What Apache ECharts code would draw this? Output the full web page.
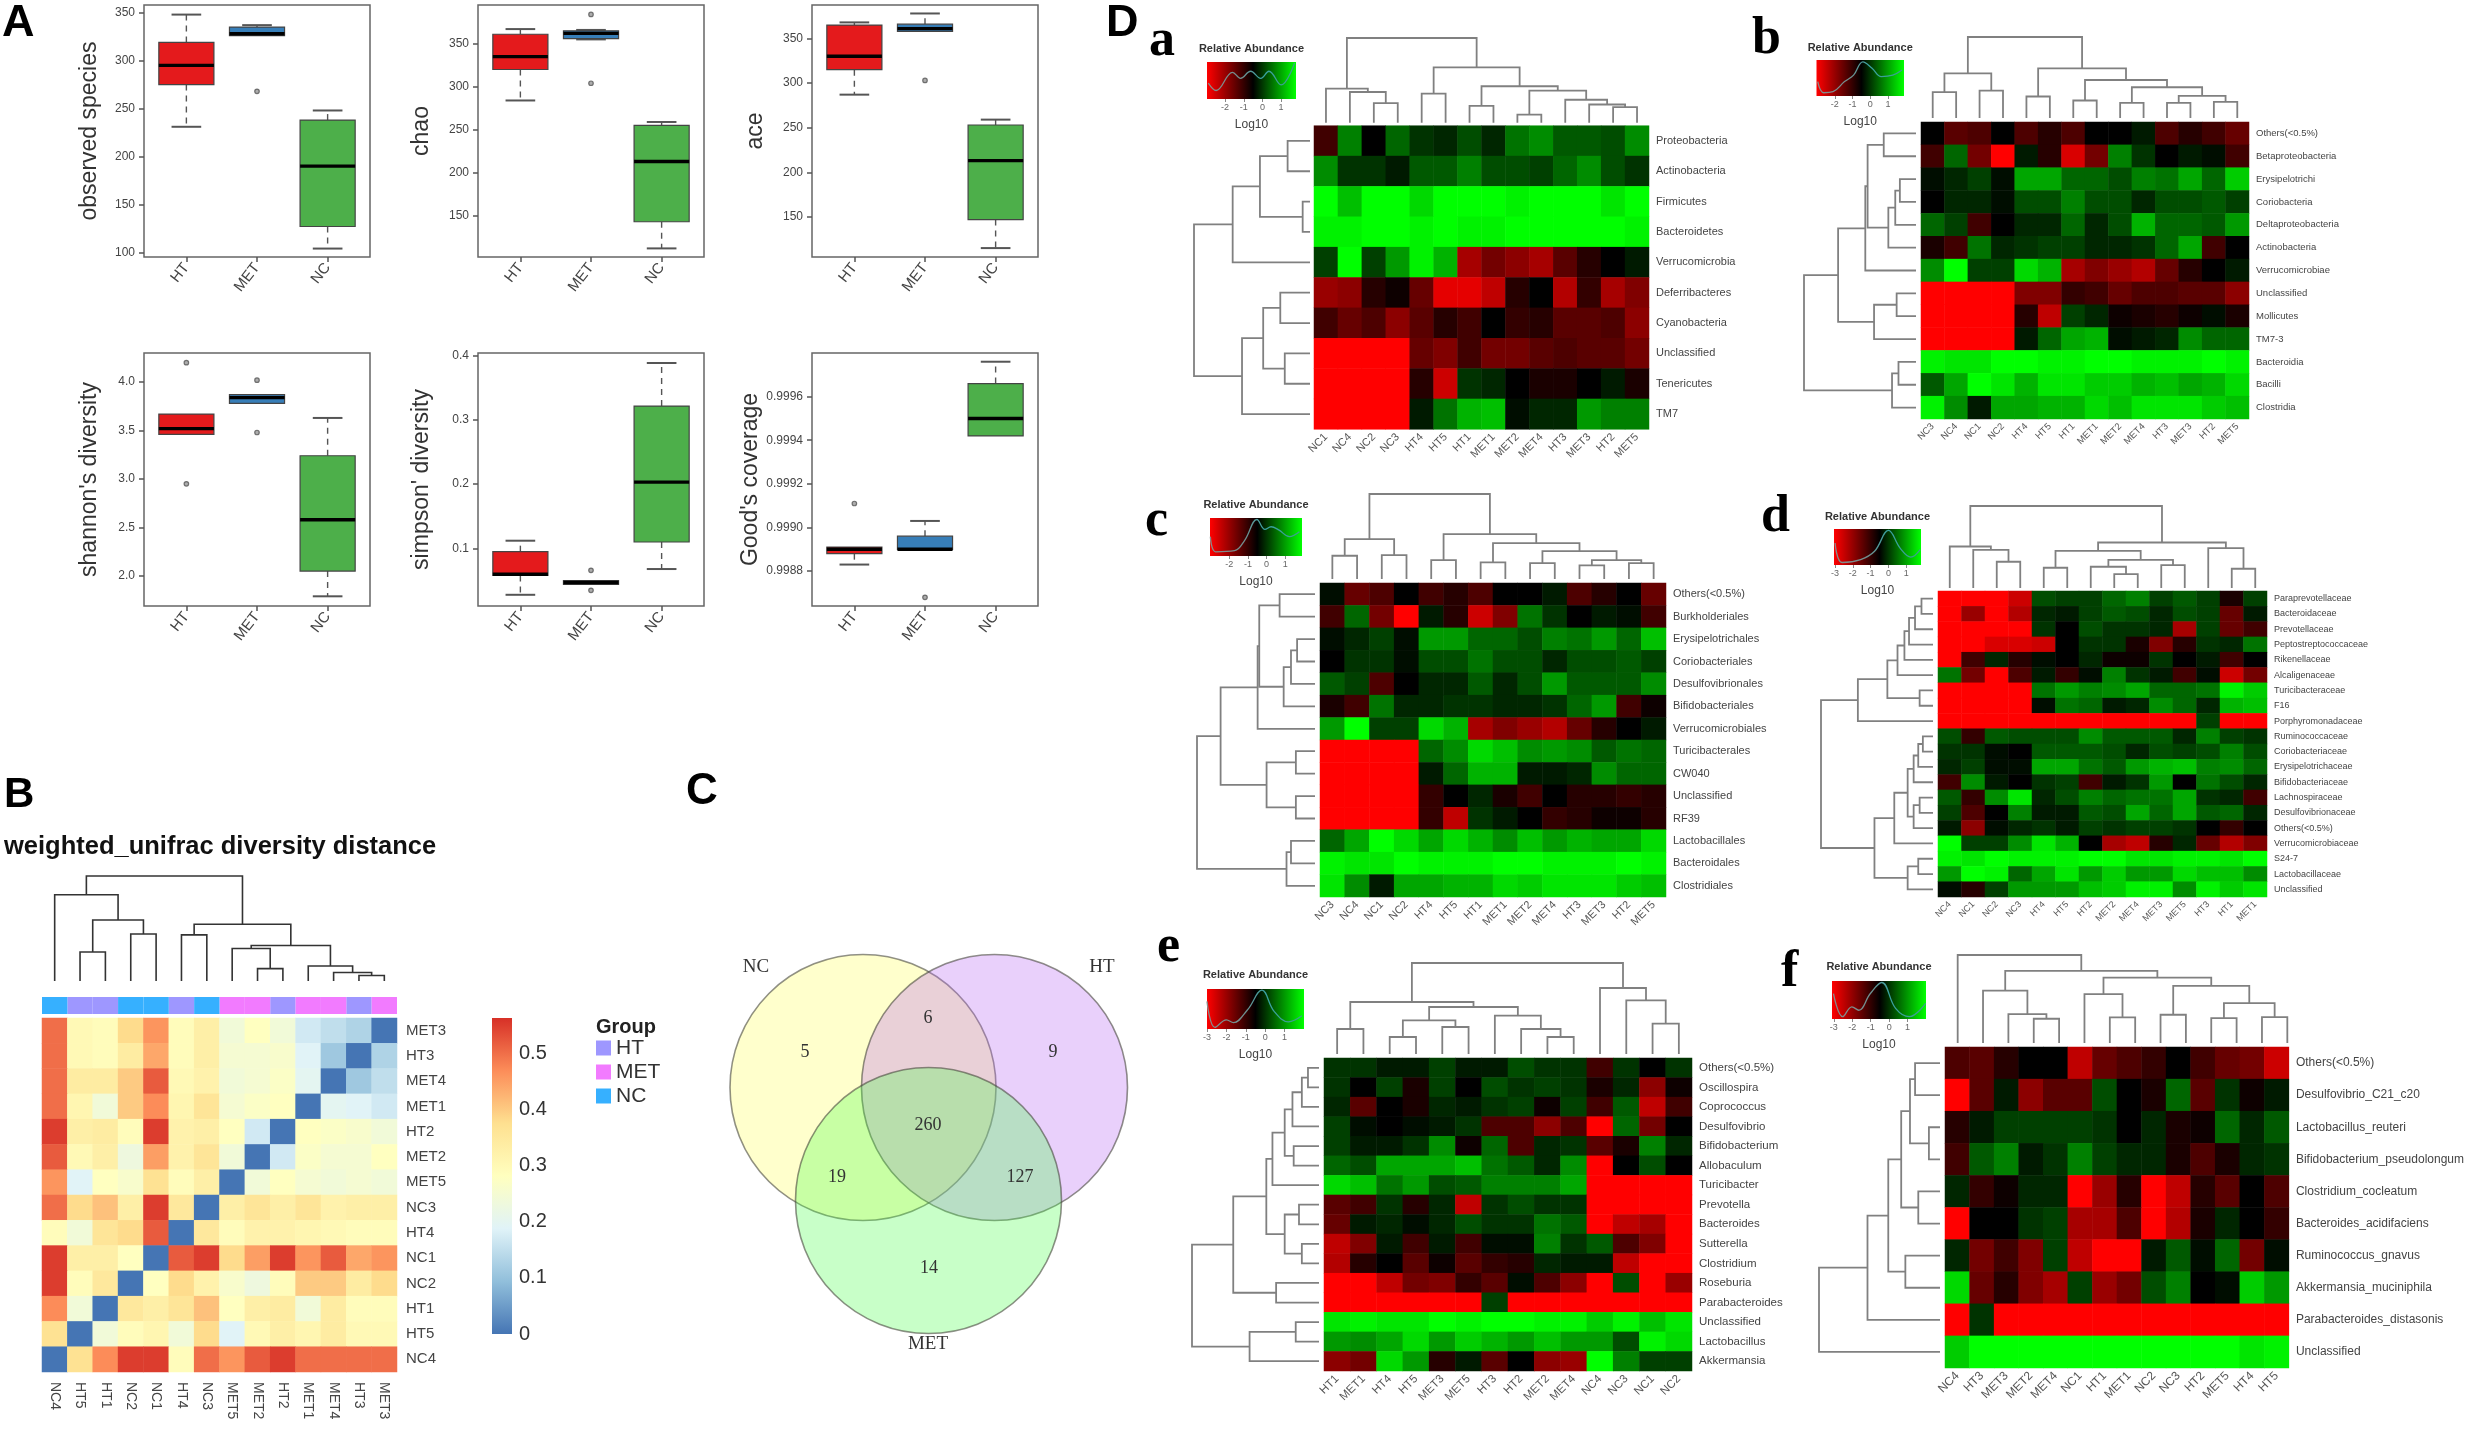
<!DOCTYPE html>
<html><head><meta charset="utf-8">
<style>html,body{margin:0;padding:0;background:#fff}#c{width:2467px;height:1429px}</style>
<script src="https://cdn.jsdelivr.net/npm/echarts@6/dist/echarts.min.js"></script>
</head><body><div id="c"></div>
<script>
// ---------- DATA ----------
const groups = ['HT','MET','NC'];
// box stats: [min, q1, median, q3, max]
const observedBoxes = [[231,275,295,319,348],[326,326,328,335,337],[104,127,190,238,248]];
const observedOut = [[2,268]];
const chaoBoxes = [[284,320,335,361,367],[355,356,362,365,366],[112,143,213,255,259]];
const chaoOut = [[2,384],[2,304]];
const aceBoxes = [[287,315,330,365,368],[358,358,361,366,378],[115,147,213,253,259]];
const aceOut = [[2,303]];
const shannonBoxes = [[3.46,3.46,3.52,3.67,3.67],[3.78,3.78,3.84,3.87,3.87],[1.79,2.05,2.58,3.24,3.63]];
const shannonOut = [[1,4.2],[1,2.95],[2,4.02],[2,3.48]];
const simpsonBoxes = [[0.028,0.058,0.06,0.095,0.112],[0.044,0.044,0.047,0.05,0.05],[0.068,0.11,0.203,0.321,0.388]];
const simpsonOut = [[2,0.066],[2,0.035]];
const goodsBoxes = [[0.99883,0.99888,0.9989,0.99891,0.99891],[0.9989,0.9989,0.9989,0.99896,0.99903],[0.99942,0.99942,0.9995,0.99966,0.99976]];
const goodsOut = [[1,0.99911],[2,0.99868]];

const distCols = ['NC4','HT5','HT1','NC2','NC1','HT4','NC3','MET5','MET2','HT2','MET1','MET4','HT3','MET3'];
const distRows = ['MET3','HT3','MET4','MET1','HT2','MET2','MET5','NC3','HT4','NC1','NC2','HT1','HT5','NC4'];
const distValues = [
[.5,.30,.29,.38,.46,.29,.33,.24,.28,.24,.17,.15,.13,0],
[.5,.30,.29,.34,.44,.29,.33,.25,.25,.26,.19,.11,0,.13],
[.5,.34,.34,.40,.52,.30,.32,.24,.25,.27,.2,0,.11,.15],
[.5,.31,.24,.40,.47,.31,.36,.25,.27,.28,0,.2,.19,.17],
[.55,.33,.34,.29,.55,.32,.33,.28,.17,0,.28,.27,.26,.24],
[.52,.30,.33,.23,.45,.32,.36,.24,0,.17,.27,.25,.25,.28],
[.46,.19,.28,.26,.37,.29,.33,0,.24,.28,.25,.24,.25,.24],
[.5,.38,.41,.33,.55,.35,0,.33,.36,.33,.36,.32,.33,.33],
[.29,.24,.36,.38,.52,0,.35,.29,.32,.32,.31,.30,.29,.29],
[.55,.33,.33,.28,0,.52,.55,.38,.45,.55,.46,.52,.44,.46],
[.55,.29,.35,0,.28,.38,.32,.26,.23,.29,.40,.40,.34,.38],
[.47,.24,0,.35,.33,.36,.41,.28,.33,.34,.24,.34,.29,.29],
[.37,0,.24,.29,.31,.24,.38,.19,.30,.33,.31,.34,.30,.30],
[0,.37,.47,.55,.55,.29,.5,.46,.52,.55,.5,.5,.5,.5]];
const distTree = [246,[202,0,[143,[68,0,0],[110,0,0]]],[133,[108,0,0],[83,[76,0,[29,0,0]],[35,0,[20,0,[13,0,0]]]]]];
const distTicks = [0,0.1,0.2,0.3,0.4,0.5];
const distPalette = ['#4575B4','#91BFDB','#E0F3F8','#FFFFBF','#FEE090','#FC8D59','#D73027'];

const vennCounts = ['5','6','9','260','19','127','14'];
const vennNames = ['NC','HT','MET'];

const R = -2.5;
const aCols = ['NC1','NC4','NC2','NC3','HT4','HT5','HT1','MET1','MET2','MET4','HT3','MET3','HT2','MET5'];
const aTaxa = ['Proteobacteria','Actinobacteria','Firmicutes','Bacteroidetes','Verrucomicrobia','Deferribacteres','Cyanobacteria','Unclassified','Tenericutes','TM7'];
const aValues = [
[-1,.5,-.5,.3,-.1,-.2,.1,-.2,.4,.6,.2,.2,.1,.6],
[.6,-.1,-.1,-.3,.2,.2,.5,.1,.1,0,.3,.6,.1,-.1],
[1.5,1,1.5,1.5,1.2,1.5,1.5,1.5,1.4,1.5,1.5,1.5,1.3,1.5],
[1.4,1.4,1.5,1.5,1.4,1.5,1.4,1.4,1.5,1.5,1.5,1.5,1.5,1.4],
[0,1.5,0,.7,1.4,.9,-1.8,-1.4,-1.6,-1.8,-1.2,-.8,-.5,-.3],
[-1.7,-1.6,-.8,-.6,-1.3,-2.3,-2.3,-2,-.8,-.5,-1.9,-.9,-1.8,-1.5],
[-1,-1.3,-1.1,-1.6,-1.2,-.8,-1,-.5,-.9,-.8,-1.2,-1.2,-1.1,-1.6],
[R,R,R,R,-1.3,-1.5,-1,-1.4,-1.4,-1.2,-1.1,-1.2,-1.2,-1.4],
[R,R,R,R,-.8,-2.1,-.1,-.2,-.5,-.7,-.7,-.5,-.3,-.7],
[R,R,R,R,-.3,.4,.9,1,-.4,-.2,-.2,.7,.5,.5]];
const aTop = [251,[101,0,[91,0,[58,0,0]]],[164,[86,0,0],[108,[50,0,0],[95,[24,0,0],[68,0,[54,0,[46,0,0]]]]]]];
const aLeft = [285,[190,[123,[55,0,0],[18,0,0]],0],[167,[115,[73,0,0],[62,0,0]],0]];
const aDensity = [[-2.9,.43],[-2.48,.23],[-1.6,.72],[-1.17,.56],[-.63,.75],[-.09,.56],[.35,.75],[1,.38],[1.72,.97]];

const bCols = ['NC3','NC4','NC1','NC2','HT4','HT5','HT1','MET1','MET2','MET4','HT3','MET3','HT2','MET5'];
const bTaxa = ['Others(<0.5%)','Betaproteobacteria','Erysipelotrichi','Coriobacteria','Deltaproteobacteria','Actinobacteria','Verrucomicrobiae','Unclassified','Mollicutes','TM7-3','Bacteroidia','Bacilli','Clostridia'];
const bValues = [
[-.5,-1.2,-1.1,-.5,-1.1,-.8,-1.1,-.5,-.5,-.3,-1.1,-.8,-1,-1.3],
[-1,.3,-1.4,R,-.3,-.8,-2.2,-1.4,.5,-.1,-.5,-.3,-.4,-1],
[-.4,-.2,0,-.4,.8,.8,.3,.3,.1,.5,.4,.8,.3,1.1],
[-.5,-.2,-.2,-.4,.1,.1,.5,.1,.1,-.2,.1,.1,.2,0],
[.3,0,-1,-.5,-.2,-.2,.3,-.2,.1,.9,.3,.3,.2,.7],
[-.7,-1,.4,-.2,-.1,0,0,-.2,-.2,-.1,.3,.8,-1,-.5],
[.6,1.5,0,0,1.2,.9,-1.8,-1.5,-1.7,-1.9,-1.3,-.8,-.5,-.3],
[R,R,R,R,-1.5,-1.5,-.9,-1,-1.3,-1.1,-1.1,-1.2,-1.2,-1.6],
[R,R,R,R,-.8,-2,0,-.2,-.6,-.7,-.8,-.6,-.4,-.7],
[R,R,R,R,-.3,.3,.8,.9,-.4,-.3,-.2,.6,.3,.3],
[1.4,1.3,1.3,1.5,1.5,1.4,1.4,1.5,1.5,1.4,1.4,1.4,1.5,1.4],
[.2,.8,1.5,1.3,.9,1.3,1.3,1.1,1.1,.9,1,.8,.9,1.2],
[1.4,.6,-.3,.8,.8,.9,.9,1.2,1,1.3,1.3,1.3,1.1,1]];
const bTop = [245,[135,[78,0,0],[83,0,0]],[150,[65,0,0],[115,[53,0,0],[93,[46,0,0],[67,[46,0,0],[49,0,0]]]]]];
const bLeft = [243,[169,[110,[105,[70,0,0],[60,[45,[35,0,0],0],0]],0],[91,[42,0,0],0]],[52,[38,0,0],0]];
const bDensity = [[-2.96,.4],[-2.62,.09],[-2.1,.12],[-1.45,.4],[-.94,.58],[-.42,.95],[.1,.77],[.62,.54],[1.27,.58],[1.79,.72]];

const cCols = bCols;
const cTaxa = ['Others(<0.5%)','Burkholderiales','Erysipelotrichales','Coriobacteriales','Desulfovibrionales','Bifidobacteriales','Verrucomicrobiales','Turicibacterales','CW040','Unclassified','RF39','Lactobacillales','Bacteroidales','Clostridiales'];
const cValues = [
[-.4,-1.3,-1.1,-.5,-1,-.8,-1.1,-.5,-.5,-.3,-1.1,-.8,-.5,-1.3],
[-1,.3,-1.4,R,-.3,-.8,-2.1,-1.5,.4,-.1,-.5,-.3,-.4,-1],
[-.4,-.2,0,-.4,.7,.7,.3,.3,.1,.5,.4,.7,.3,1],
[-.5,-.1,-.1,-.4,.1,.1,.4,.1,.1,-.2,.1,.1,.2,0],
[.2,0,-1.1,-.5,-.2,-.2,.2,-.2,.1,.7,.2,.2,.2,.6],
[-.7,-1,.4,-.2,-.2,-.1,-.1,-.2,-.2,-.1,.3,.7,-1,-.6],
[.7,1.5,0,0,1.2,.9,-1.8,-1.5,-1.7,-1.9,-1.3,-.8,-.5,-.3],
[R,R,R,R,.3,.6,1.2,1,.6,.7,.6,.2,.4,.3],
[R,R,R,R,-.3,.3,.9,.9,-.3,-.3,-.2,.6,.3,.3],
[R,R,R,R,-.9,-.5,-.2,-.7,-1,-.5,-.8,-.8,-.9,-.8],
[R,R,R,R,-.9,-2,-.1,-.3,-.5,-.9,-.8,-.6,-.6,-.8],
[.3,.8,1.5,1.2,.8,1.2,.9,.6,1,.7,.9,.8,.8,1.2],
[1.4,1.3,1.3,1.5,1.4,1.4,1.4,1.5,1.5,1.4,1.4,1.4,1.5,1.4],
[1.3,.6,-.3,.8,.8,.9,.9,1.2,1.1,1.3,1.3,1.3,1.1,1]];
const cTop = [256,[120,[70,0,0],[72,0,0]],[135,[57,0,0],[108,[50,0,0],[84,[48,0,0],[57,[41,0,0],[48,0,0]]]]]];
const cLeft = [290,[232,[141,[137,[87,0,0],[77,[59,[44,0,0],0],0]],0],[119,[47,0,0],[47,0,0]]],[70,[59,0,0],0]];
const cDensity = [[-3.02,.51],[-2.74,.11],[-1.72,.14],[-1.17,.42],[-.52,.96],[-.09,.7],[.24,.77],[.67,.68],[1.22,.51],[1.76,.64]];

const dCols = ['NC4','NC1','NC2','NC3','HT4','HT5','HT2','MET2','MET4','MET3','MET5','HT3','HT1','MET1'];
const dTaxa = ['Paraprevotellaceae','Bacteroidaceae','Prevotellaceae','Peptostreptococcaceae','Rikenellaceae','Alcaligenaceae','Turicibacteraceae','F16','Porphyromonadaceae','Ruminococcaceae','Coriobacteriaceae','Erysipelotrichaceae','Bifidobacteriaceae','Lachnospiraceae','Desulfovibrionaceae','Others(<0.5%)','Verrucomicrobiaceae','S24-7','Lactobacillaceae','Unclassified'];
const dValues = [
[R,R,R,-2.1,.1,0,0,.3,.5,0,.2,0,-.7,0],
[R,-1.7,R,-1.9,-.2,-.3,0,.2,.1,-.2,.1,0,-1.3,-.3],
[R,R,R,R,-.1,-.5,.1,-.1,-.1,-.2,-1.8,0,-1.3,-1],
[R,R,-2.2,-2.2,-2.1,-.5,-.1,-.1,-.7,-1.5,-.8,-.1,-.2,.4],
[R,-1,-.2,-.8,-.4,-.5,-.2,-.6,-.6,-.1,-.5,-.3,-1,-.5],
[.4,-1.4,R,-1.1,-.3,-.9,-.4,.5,-.1,-.3,-1,-.4,-2.1,-1.4],
[R,R,R,R,.4,.7,.5,.6,.8,.3,.3,.4,1.4,1.1],
[R,R,R,R,-.4,.4,.3,-.3,-.2,.6,.3,-.2,.9,1],
[R,R,R,R,R,R,R,R,R,R,R,0,R,R],
[.1,-.9,.2,.1,.1,.1,.6,.2,.2,.2,-.2,.5,0,-.1],
[-.1,-.1,-.4,-.5,.2,.2,.2,.1,-.2,.1,0,.1,.5,.1],
[-.2,0,-.4,-.4,.8,.8,.4,.2,.7,.9,1,.5,.6,.3],
[-1,.6,-.3,-.5,-.1,0,-1,-.3,-.1,.7,-.5,.4,.1,-.2],
[.2,-.9,.6,1.3,-.2,.1,.5,.3,.4,.4,.8,-.1,-.2,-1],
[0,-1.1,-.5,.5,-.3,-.3,.2,.1,.8,.3,.8,.2,.3,-.2],
[-.3,-1.6,-.4,-.2,-.1,-.3,0,-.1,0,0,-.1,-.5,-.9,-.5],
[1.5,0,0,.6,1.3,.9,-.5,-1.8,-2,-.8,-.2,-1.3,-1.9,-1.5],
[1.4,1.3,1.5,1.4,1.4,1.4,1.5,1.5,1.3,1.3,1.4,1.4,1.3,1.5],
[.7,1.5,1.4,.3,.8,1.3,.7,1.1,.7,.7,1.2,1,1,.6],
[-.4,-.8,0,.7,.7,.7,1,1.1,1.4,1.4,.6,1.4,1.1,1.3]];
const dTop = [247,[125,0,[115,0,[79,0,0]]],[137,[112,[61,0,0],[85,[64,0,[42,0,0]],[69,0,0]]],[120,0,[58,0,0]]]];
const dLeft = [243,[163,[99,[77,[62,[52,[39,[25,0,0],0],0],0],0],[29,0,0]],0],[127,[84,[55,[42,[32,[22,0,0],0],0],[42,[29,0,0],0]],0],[55,[32,0,0],0]]];
const dDensity = [[-2.99,.61],[-2.6,.07],[-1.56,.15],[-.78,.38],[0,.96],[.65,.47],[1.25,.22],[1.77,.43]];

const eCols = ['HT1','MET1','HT4','HT5','MET3','MET5','HT3','HT2','MET2','MET4','NC4','NC3','NC1','NC2'];
const eTaxa = ['Others(<0.5%)','Oscillospira','Coprococcus','Desulfovibrio','Bifidobacterium','Allobaculum','Turicibacter','Prevotella','Bacteroides','Sutterella','Clostridium','Roseburia','Parabacteroides','Unclassified','Lactobacillus','Akkermansia'];
const eValues = [
[-.1,-.1,-.3,-.3,0,-.3,-.3,.1,-.1,-.1,-1,-.1,-.5,-.1],
[-.1,-.5,0,-.7,0,-.5,.1,-.1,0,-.1,-.7,-.2,-1.6,-.6],
[-.2,-1.2,-.5,-.7,-.2,-.3,-.1,0,-.6,0,-1,.2,-2,-1],
[0,-.4,-.5,-.4,-.3,-.1,-1.1,-1.1,-1.6,-1.1,R,.3,-1.4,-.5],
[0,-.3,-.3,-.1,.6,-.6,.3,-1.1,-.2,-.1,-1.2,-.7,.5,-.2],
[.3,.1,.8,.8,.8,1,.4,.2,-.2,.6,R,-.5,.1,-.5],
[1.2,1,.4,.7,.1,.2,.5,.5,.5,.8,R,R,R,R],
[-1.2,-1,-.1,-.8,-.2,-2,-.1,.1,-.1,-.1,R,R,R,R],
[-1.3,-.3,-.2,-.4,-.2,.1,-.1,-.1,.4,.2,R,-2,-1.8,R],
[-2,-1.5,-.3,-1,-.3,-1,-.4,-.4,.5,-.1,.2,-1.1,-1.5,R],
[-1.9,-.8,-.5,-1.2,-.6,-1.2,-.9,-.8,-.2,-.3,-.3,-2,R,R],
[R,R,-2,-1.4,-1.5,-.9,-1.2,-.4,-1.1,-1.6,R,.1,R,-1.7],
[R,R,R,R,R,R,0,R,R,R,R,R,R,R],
[1.3,1.4,1.3,1.3,1.5,1.4,1.5,1.5,1.4,1.4,1.1,1.4,1,1.3],
[.7,.6,.8,1.2,.7,1.1,.9,.7,1,.7,.7,.1,1.4,1.2],
[-1.6,-1.4,1.2,.7,-.8,-.3,-1.2,-.5,-1.6,-1.7,1.5,.5,0,0]];
const eTop = [273,[156,[75,0,0],[141,[101,[51,0,0],[81,0,0]],[115,0,[75,0,[51,0,0]]]]],[198,0,[161,0,[91,0,0]]]];
const eLeft = [311,[210,[129,[114,[84,[65,[42,[27,0,0],0],0],[62,0,0]],0],[84,[49,0,0],[42,0,0]]],[105,0,0]],[170,[57,0,0],0]];
const eDensity = [[-3,.69],[-2.59,.04],[-2,.23],[-1.64,.16],[-.91,.48],[-.17,.97],[.46,.44],[1.2,.18],[1.89,.33]];

const fCols = ['NC4','HT3','MET3','MET2','MET4','NC1','HT1','MET1','NC2','NC3','HT2','MET5','HT4','HT5'];
const fTaxa = ['Others(<0.5%)','Desulfovibrio_C21_c20','Lactobacillus_reuteri','Bifidobacterium_pseudolongum','Clostridium_cocleatum','Bacteroides_acidifaciens','Ruminococcus_gnavus','Akkermansia_muciniphila','Parabacteroides_distasonis','Unclassified'];
const fValues = [
[-1.1,-1.2,-.8,-.5,-.5,-2,-1.3,-1.1,-.9,-.5,-1,-1.3,-1.4,-2.1],
[R,-1.2,-.3,-1.6,-1.2,-1.2,.1,-.5,-.7,.3,-1.2,-.1,-.6,-.3],
[-.8,-.3,0,0,0,0,-.1,-.5,-.2,-.7,-.6,.3,-.2,.2],
[-1,.2,.5,-.3,-.1,.5,0,-.2,-.2,-.7,-1.1,-.7,-.2,-.1],
[-.2,-.9,-.6,-.2,-.2,R,-1.7,-.8,R,-2,-.8,-1.2,-.5,-1.1],
[R,-.5,-.5,-.1,0,-1.8,-1.8,-1.1,R,-1.9,-.7,-.2,-.5,-.9],
[-.2,-1.4,-1,-1.5,0,-2,R,R,-.3,.2,-.4,.3,-1.4,-.4],
[1.2,-1.3,-.8,-1.5,-1.8,0,-1.7,-1.4,.1,.5,-.5,-.4,1.1,.7],
[R,-.1,R,R,R,R,R,R,R,R,R,R,R,R],
[1.1,1.5,1.5,1.5,1.5,1.5,1.5,1.5,1.5,1.5,1.5,1.5,1.3,1.4]];
const fTop = [265,0,[217,[158,0,[87,0,[73,0,0]]],[197,[147,0,[77,0,0]],[172,[85,0,0],[120,[75,0,0],[78,0,0]]]]]];
const fLeft = [262,[157,[112,[84,[65,[54,0,0],[24,0,0]],[47,0,0]],[75,0,0]],0],0];
const fDensity = [[-3.02,.67],[-2.52,.06],[-2.02,.32],[-1.65,.23],[-1.02,.67],[-.4,.96],[.35,.28],[1.1,.06],[1.98,.41]];

// ---------- LAYOUT ----------
const SANS = '"Liberation Sans",Arial,sans-serif', SERIF = '"Liberation Serif","Times New Roman",serif';
const opt = {backgroundColor:'#fff',animation:false,textStyle:{fontFamily:SANS},grid:[],xAxis:[],yAxis:[],series:[],visualMap:[],graphic:[{type:'group',children:[]}]};
const gfx = opt.graphic[0].children;
function text(t,x,y,font,fill,align){gfx.push({type:'text',x:x,y:y,silent:true,style:{text:t,font:font,fill:fill||'#000',textAlign:align||'left',textVerticalAlign:'middle'}});}
function addGrid(r,xa,ya,g){const i=opt.grid.length;
  opt.grid.push(Object.assign({left:r[0],top:r[1],width:r[2]-r[0],height:r[3]-r[1],show:false},g||{}));
  opt.xAxis.push(Object.assign({gridIndex:i},xa));opt.yAxis.push(Object.assign({gridIndex:i},ya));return i;}
const hidden=(min,max,extra)=>Object.assign({type:'value',show:false,min:min,max:max,splitLine:{show:false}},extra||{});

// ---- A: box plots ----
const boxColors=['#e41a1c','#377eb8','#4daf4a'];
function boxPanel(rect,title,gap,boxes,outs,yMin,yMax,ticks,dec){
  const i=addGrid(rect,
   {type:'value',min:0.4,max:3.6,splitLine:{show:false},axisLine:{show:false},
    axisTick:{show:true,length:5,customValues:[1,2,3],lineStyle:{color:'#555',width:1.5}},
    axisLabel:{customValues:[1,2,3],rotate:52,margin:8,fontSize:15,color:'#444',formatter:v=>groups[Math.round(v)-1]}},
   {type:'value',min:yMin,max:yMax,splitLine:{show:false},axisLine:{show:false},
    axisTick:{show:true,length:5,customValues:ticks,lineStyle:{color:'#555',width:1.5}},
    axisLabel:{customValues:ticks,margin:9,fontSize:12,color:'#444',formatter:v=>v.toFixed(dec)},
    name:title,nameLocation:'middle',nameGap:gap,nameTextStyle:{fontSize:23,color:'#333',fontFamily:SANS}},
   {show:true,borderColor:'#666',borderWidth:1.5});
  opt.series.push({type:'custom',xAxisIndex:i,yAxisIndex:i,silent:true,clip:false,
    data:boxes.map((b,k)=>[k+1].concat(b)),
    renderItem:(p,api)=>{const x=api.value(0),c=(a,b)=>api.coord([a,b]),mn=api.value(1),q1=api.value(2),m=api.value(3),q3=api.value(4),mx=api.value(5);
      const col=boxColors[p.dataIndex],ln=(a,b,st)=>({type:'line',shape:{x1:a[0],y1:a[1],x2:b[0],y2:b[1]},style:st});
      const ws={stroke:'#555',lineWidth:1.4,lineDash:[6,5]},cs={stroke:'#555',lineWidth:2};
      const ch=[];
      if(mx>q3){ch.push(ln(c(x,q3),c(x,mx),ws),ln(c(x-.21,mx),c(x+.21,mx),cs));}
      if(mn<q1){ch.push(ln(c(x,q1),c(x,mn),ws),ln(c(x-.21,mn),c(x+.21,mn),cs));}
      const a=c(x-.39,q3),b=c(x+.39,q1);
      ch.push({type:'rect',shape:{x:a[0],y:a[1],width:b[0]-a[0],height:b[1]-a[1]},style:{fill:col,stroke:'#444',lineWidth:1.2}});
      ch.push(ln(c(x-.39,m),c(x+.39,m),{stroke:'#000',lineWidth:3.4}));
      return {type:'group',children:ch};}});
  opt.series.push({type:'scatter',xAxisIndex:i,yAxisIndex:i,silent:true,data:outs,symbolSize:4.5,
    itemStyle:{color:'#999',borderColor:'#555',borderWidth:1.2}});
}
boxPanel([144,5,370,257],'observed species',43,observedBoxes,observedOut,95.2,358,[100,150,200,250,300,350],0);
boxPanel([478,5,704,257],'chao',45,chaoBoxes,chaoOut,102,395,[150,200,250,300,350],0);
boxPanel([812,5,1038,257],'ace',45,aceBoxes,aceOut,105,387.5,[150,200,250,300,350],0);
boxPanel([144,353,370,606],'shannon\'s diversity',43,shannonBoxes,shannonOut,1.69,4.30,[2,2.5,3,3.5,4],1);
boxPanel([478,353,704,606],'simpson\' diversity',45,simpsonBoxes,simpsonOut,0.0106,0.4035,[0.1,0.2,0.3,0.4],1);
boxPanel([812,353,1038,606],'Good\'s coverage',45,goodsBoxes,goodsOut,0.99864,0.9998,[0.9988,0.999,0.9992,0.9994,0.9996],4);

// ---- dendrograms ----
function segments(tree){let leaf=0;const segs=[];
  (function walk(n){if(n===0)return {p:leaf++,h:0};const a=walk(n[1]),b=walk(n[2]);segs.push([a.p,a.h,b.p,b.h,n[0]]);return {p:(a.p+b.p)/2,h:n[0]};})(tree);
  return segs;}
function dendrogram(rect,tree,count,horizontal,stroke,width){
  const i=horizontal?addGrid(rect,hidden(0,tree[0],{inverse:true}),hidden(-.5,count-.5,{inverse:true}))
                    :addGrid(rect,hidden(-.5,count-.5),hidden(0,tree[0]));
  opt.series.push({type:'custom',xAxisIndex:i,yAxisIndex:i,silent:true,clip:false,data:segments(tree),
    renderItem:(p,api)=>{const [p1,h1,p2,h2,h]=[0,1,2,3,4].map(k=>api.value(k));
      const c=(q,v)=>api.coord(horizontal?[v,q]:[q,v]);
      return {type:'polyline',shape:{points:[c(p1,h1),c(p1,h),c(p2,h),c(p2,h2)]},style:{fill:null,stroke:stroke,lineWidth:width}};}});
}

// ---- B ----
const bandAxis=(d,extra)=>Object.assign({type:'category',data:d,axisLine:{show:false},axisTick:{show:false},splitLine:{show:false}},extra);
(function(){
  const L=42,Rt=397,T=1018,Bm=1372;
  dendrogram([L,876,Rt,981],distTree,14,false,'#333',1.6);
  const s=addGrid([L,997,Rt,1014],bandAxis(distCols,{axisLabel:{show:false}}),hidden(0,1));
  const grp=n=>n.replace(/\d/,'');
  ['HT','MET','NC'].forEach((g,k)=>opt.series.push({type:'bar',name:g,stack:'strip',xAxisIndex:s,yAxisIndex:s,silent:true,barCategoryGap:0,
    itemStyle:{color:['#9e97ff','#f27bff','#36b0ff'][k]},data:distCols.map(n=>grp(n)===g?1:null)}));
  const h=addGrid([L,T,Rt,Bm],
    bandAxis(distCols,{axisLabel:{interval:0,rotate:-90,fontSize:14,color:'#444',margin:10}}),
    bandAxis(distRows,{inverse:true,position:'right',axisLabel:{interval:0,fontSize:15,color:'#444',margin:9}}));
  const data=[];distValues.forEach((r,y)=>r.forEach((v,x)=>data.push([x,y,v])));
  const si=opt.series.length;
  opt.series.push({type:'heatmap',xAxisIndex:h,yAxisIndex:h,silent:true,data:data,progressive:0});
  opt.visualMap.push({type:'continuous',show:false,seriesIndex:si,dimension:2,min:0,max:.563,inRange:{color:distPalette}});
  // colour bar
  const cb=addGrid([492,1018,512,1334],hidden(0,1),
    {type:'value',position:'right',min:0,max:.563,splitLine:{show:false},axisLine:{show:false},axisTick:{show:false},
     axisLabel:{customValues:distTicks,fontSize:20,color:'#333',margin:7,formatter:v=>v===0?'0':String(+v.toFixed(1))}});
  opt.series.push({type:'custom',xAxisIndex:cb,yAxisIndex:cb,silent:true,data:[[0,0,1,.563]],
    renderItem:(p,api)=>{const a=api.coord([0,.563]),b=api.coord([1,0]);
      return {type:'rect',shape:{x:a[0],y:a[1],width:b[0]-a[0],height:b[1]-a[1]},
        style:{fill:new echarts.graphic.LinearGradient(0,1,0,0,distPalette.map((c,k)=>({offset:k/6,color:c})))}};}});
  opt.legend={show:true,orient:'vertical',left:596,top:1037,padding:0,itemWidth:15,itemHeight:15,itemGap:2,icon:'rect',
    data:['HT','MET','NC'],selectedMode:false,textStyle:{fontSize:21,color:'#333',fontFamily:SANS,lineHeight:22}};
  text('Group',596,1027,'bold 20px '+SANS,'#222');
  text('weighted_unifrac diversity distance',4,847,'bold 25.5px '+SANS,'#111');
})();

// ---- C: Venn ----
(function(){
  const i=addGrid([680,930,1180,1370],hidden(680,1180),hidden(930,1370,{inverse:true}));
  const sets=[[863,1087.5,133,'rgba(255,255,0,0.2)'],[994.5,1087.5,133,'rgba(182,98,242,0.3)'],[928.5,1200.5,133,'rgba(72,255,72,0.3)']];
  opt.series.push({type:'custom',xAxisIndex:i,yAxisIndex:i,silent:true,clip:false,data:sets,
    renderItem:(p,api)=>{const c=api.coord([api.value(0),api.value(1)]),r=api.size([api.value(2),0])[0];
      return {type:'circle',shape:{cx:c[0],cy:c[1],r:r},style:{fill:sets[p.dataIndex][3],stroke:'rgba(70,70,60,0.6)',lineWidth:1.6}};}});
  const spots=[[805,1052],[928,1018],[1053,1052],[928,1125],[837,1177],[1020,1177],[929,1268]];
  const nameSpots=[[756,967],[1102,967],[928,1344]];
  const labs=vennCounts.map((t,k)=>[spots[k][0],spots[k][1],t,18]).concat(vennNames.map((t,k)=>[nameSpots[k][0],nameSpots[k][1],t,19]));
  opt.series.push({type:'custom',xAxisIndex:i,yAxisIndex:i,silent:true,clip:false,data:labs,
    renderItem:(p,api)=>{const c=api.coord([api.value(0),api.value(1)]),l=labs[p.dataIndex];
      return {type:'text',x:c[0],y:c[1],style:{text:l[2],font:l[3]+'px '+SERIF,fill:'#333',textAlign:'center',textVerticalAlign:'middle'}};}});
})();

// ---- D: heat maps ----
const rgSeries=[];
function abundance(o){
  const h=o.heat,n=o.cols.length,m=o.rows.length;
  dendrogram([h[0],o.top[0],h[2],o.top[1]],o.topTree,n,false,'#808080',1.8);
  dendrogram([o.left[0],h[1],o.left[1],h[3]],o.leftTree,m,true,'#808080',1.8);
  const g=addGrid(h,
    bandAxis(o.cols,{axisLabel:{interval:0,rotate:45,fontSize:o.fs,color:'#555',margin:6}}),
    bandAxis(o.rows,{inverse:true,position:'right',axisLabel:{interval:0,fontSize:o.fs,color:'#444',margin:7,width:200,overflow:'none'}}));
  const data=[];o.values.forEach((r,y)=>r.forEach((v,x)=>data.push([x,y,v])));
  rgSeries.push(opt.series.length);
  opt.series.push({type:'heatmap',xAxisIndex:g,yAxisIndex:g,silent:true,data:data,progressive:0});
  // colour key
  const k=o.key,min=o.range[0],max=o.range[1];
  const ki=addGrid(k,
    {type:'value',min:min,max:max,splitLine:{show:false},axisLine:{show:false},
     axisTick:{show:true,length:3,customValues:o.ticks,lineStyle:{color:'#888'}},
     axisLabel:{customValues:o.ticks,fontSize:9,color:'#666',margin:4,formatter:v=>String(Math.round(v))},
     name:'Log10',nameLocation:'middle',nameGap:20,nameTextStyle:{fontSize:12,color:'#444',fontFamily:SANS}},
    hidden(0,1));
  opt.series.push({type:'custom',xAxisIndex:ki,yAxisIndex:ki,silent:true,data:[[min,0,max,1]],
    renderItem:(p,api)=>{const a=api.coord([min,1]),b=api.coord([max,0]);
      return {type:'rect',shape:{x:a[0],y:a[1],width:b[0]-a[0],height:b[1]-a[1]},
        style:{fill:new echarts.graphic.LinearGradient(0,0,1,0,[{offset:0,color:'#ff0000'},{offset:(-.5-min)/(max-min),color:'#000'},{offset:1,color:'#00ff00'}])}};}});
  opt.series.push({type:'line',xAxisIndex:ki,yAxisIndex:ki,silent:true,data:o.density,showSymbol:false,smooth:.4,
    lineStyle:{width:1.3,color:new echarts.graphic.LinearGradient(0,0,1,0,[{offset:0,color:'#8a8a8a'},{offset:.4,color:'#6f8f8f'},{offset:.6,color:'#3aa0a0'},{offset:1,color:'#3aa08a'}])}});
  text('Relative Abundance',(k[0]+k[2])/2,o.titleY,'bold 11px '+SANS,'#333','center');
}
abundance({cols:aCols,rows:aTaxa,values:aValues,topTree:aTop,leftTree:aLeft,density:aDensity,
  heat:[1314,125.7,1649,429.3],top:[38,122.7],left:[1194,1310],fs:11,key:[1207,62,1296,99],range:[-2.97,1.8],ticks:[-2,-1,0,1],titleY:49});
abundance({cols:bCols,rows:bTaxa,values:bValues,topTree:bTop,leftTree:bLeft,density:bDensity,
  heat:[1921,122,2249,419],top:[37,118],left:[1804,1916],fs:9.5,key:[1816.5,60,1904,96],range:[-3.03,1.9],ticks:[-2,-1,0,1],titleY:48});
abundance({cols:cCols,rows:cTaxa,values:cValues,topTree:cTop,leftTree:cLeft,density:cDensity,
  heat:[1320,583,1666,897],top:[494,579],left:[1197,1315],fs:11,key:[1210,518,1302,556],range:[-3.04,1.9],ticks:[-2,-1,0,1],titleY:505});
abundance({cols:dCols,rows:dTaxa,values:dValues,topTree:dTop,leftTree:dLeft,density:dDensity,
  heat:[1938,591,2267,897],top:[506,588],left:[1821,1933],fs:9,key:[1834,529,1921,565],range:[-3.05,1.82],ticks:[-3,-2,-1,0,1],titleY:517});
abundance({cols:eCols,rows:eTaxa,values:eValues,topTree:eTop,leftTree:eLeft,density:eDensity,
  heat:[1324,1058,1692,1371],top:[963,1054],left:[1192,1319],fs:11.5,key:[1207,989,1304,1029],range:[-3,2],ticks:[-3,-2,-1,0,1],titleY:975});
abundance({cols:fCols,rows:fTaxa,values:fValues,topTree:fTop,leftTree:fLeft,density:fDensity,
  heat:[1945,1047,2300,1368],top:[955,1043],left:[1819,1940],fs:12,key:[1832,981,1926,1019],range:[-3.1,2],ticks:[-3,-2,-1,0,1],titleY:967});
opt.visualMap.push({type:'continuous',show:false,seriesIndex:rgSeries,dimension:2,min:-2.5,max:1.5,inRange:{color:['#ff0000','#000000','#00ff00']}});

// ---- panel letters ----
text('A',2,24,'bold 45px '+SANS);
text('B',4,795,'bold 42px '+SANS);
text('C',686,792,'bold 44px '+SANS);
text('D',1106,24,'bold 45px '+SANS);
[['a',1149,42],['b',1752,40],['c',1145,522],['d',1761,518],['e',1157,948],['f',1781,973]].forEach(l=>text(l[0],l[1],l[2],'bold 52px '+SERIF));

echarts.init(document.getElementById('c'),null,{renderer:'canvas',width:2467,height:1429}).setOption(opt);
</script></body></html>
